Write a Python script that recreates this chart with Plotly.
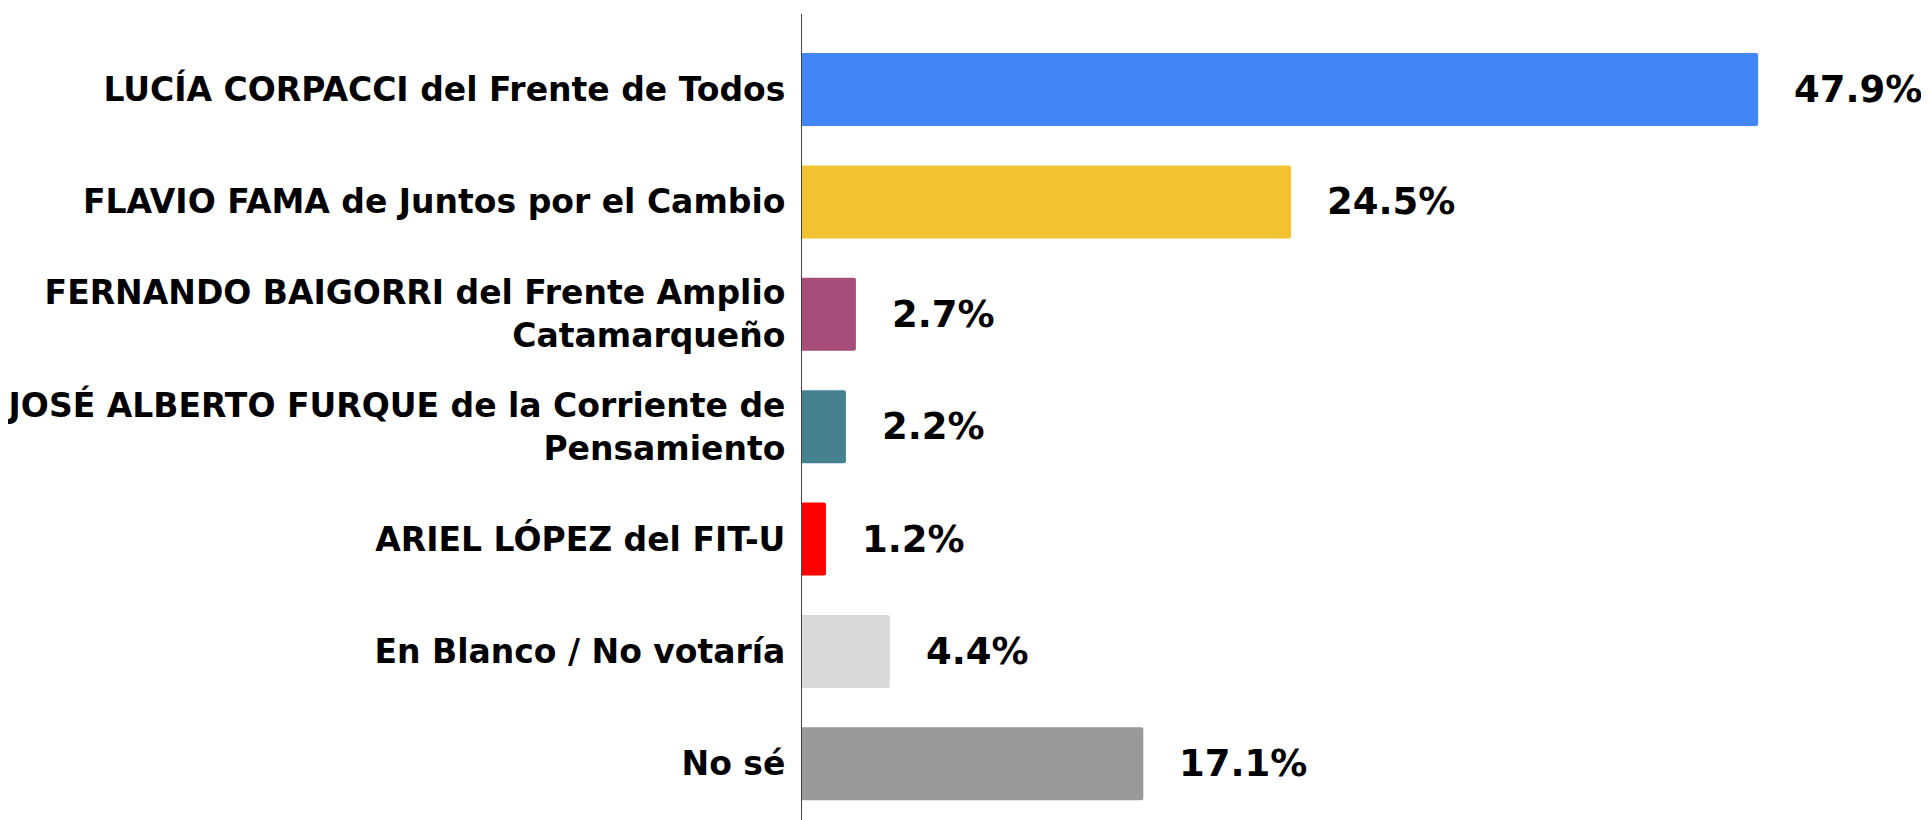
import plotly.graph_objects as go

categories = [
    "LUCÍA CORPACCI del Frente de Todos",
    "FLAVIO FAMA de Juntos por el Cambio",
    "FERNANDO BAIGORRI del Frente Amplio<br>Catamarqueño",
    "JOSÉ ALBERTO FURQUE de la Corriente de<br>Pensamiento",
    "ARIEL LÓPEZ del FIT-U",
    "En Blanco / No votaría",
    "No sé",
]
values = [47.9, 24.5, 2.7, 2.2, 1.2, 4.4, 17.1]
colors = ["#4285F4", "#F1C232", "#A64D79", "#45818E", "#FF0000", "#D9D9D9", "#999999"]

positions = list(range(len(categories)))
FONT = "DejaVu Sans"

fig = go.Figure()
fig.add_trace(go.Bar(
    x=values,
    y=positions,
    orientation="h",
    marker=dict(color=colors, line=dict(width=0), cornerradius=2),
    width=0.65,
    hoverinfo="skip",
))

for p, v in zip(positions, values):
    fig.add_annotation(
        x=v, y=p, xref="x", yref="y",
        text=f"<b>{v}%</b>",
        showarrow=False,
        xanchor="left", yanchor="middle",
        xshift=34,
        font=dict(family=FONT, size=37, color="#000000"),
    )

fig.update_layout(
    width=1921, height=812,
    margin=dict(l=794, r=0, t=6, b=0, pad=0),
    paper_bgcolor="white", plot_bgcolor="white",
    showlegend=False,
    xaxis=dict(range=[0, 56.46], showgrid=False, zeroline=False,
               showticklabels=False, ticks="", showline=False),
    yaxis=dict(range=[6.5, -0.672], tickmode="array", tickvals=positions,
               ticktext=[f"<b>{c}</b>" for c in categories],
               showgrid=False, zeroline=False, showline=True,
               linecolor="#444444", linewidth=1, ticks="",
               ticklabelstandoff=9,
               tickfont=dict(family=FONT, size=33, color="#000000")),
)

fig.write_html("out.html")
